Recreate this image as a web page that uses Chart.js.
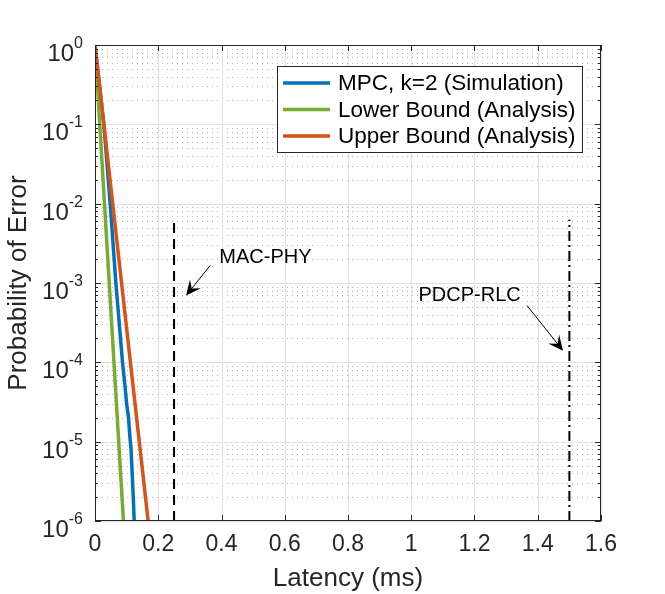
<!DOCTYPE html>
<html>
<head>
<meta charset="utf-8">
<script src="https://cdn.jsdelivr.net/npm/chart.js@4.4.0/dist/chart.umd.min.js"></script>
<style>
  html, body { margin: 0; padding: 0; background: #fff; }
</style>
</head>
<body>
<canvas id="grafico" width="665" height="594"></canvas>
<script>
// Dati
var latenzaMPC = [0, 0.028, 0.048, 0.066, 0.087, 0.095, 0.100, 0.106, 0.110, 0.114, 0.119, 0.121, 0.124];
var erroreMPC  = [1, 1e-1, 1e-2, 1e-3, 1e-4, 5e-5, 3e-5, 2e-5, 1.2e-5, 8e-6, 3e-6, 2e-6, 1e-6];
var latenzaLower = [0, 0.090];
var erroreLower  = [1, 1e-6];
var latenzaUpper = [0, 0.168];
var erroreUpper  = [1, 1e-6];

// linee verticali (MAC-PHY, PDCP-RLC)
var lineeX    = [0.25, 1.5];
var lineeBase = [1e-6, 1e-6];
var lineeTop  = [6.8e-3, 6.3e-3];

var etichette = ['MPC, k=2 (Simulation)', 'Lower Bound (Analysis)', 'Upper Bound (Analysis)'];
var xTicks = [0, 0.2, 0.4, 0.6, 0.8, 1, 1.2, 1.4, 1.6];
var yTicks = [1e-6, 1e-5, 1e-4, 1e-3, 1e-2, 1e-1, 1];

// note con freccia
var testiNote = ['MAC-PHY', 'PDCP-RLC'];
var notaX = [0.393, 1.023];
var notaY = [1.8e-3, 6.0e-4];
var frecciaDaX = [0.364, 1.366];
var frecciaDaY = [1.66e-3, 5.2e-4];
var frecciaAX = [0.288, 1.48];
var frecciaAY = [6.95e-4, 1.4e-4];

var FONT = "'Liberation Sans', Arial, Helvetica, sans-serif";
var GRIGIO = '#262626';

function punti(xs, ys) {
    var out = [];
    for (var i = 0; i < xs.length; i++) {
        out.push({ x: xs[i], y: ys[i] });
    }
    return out;
}

// Griglia stile MATLAB (maggiore continua, minore punteggiata)
var pluginGriglia = {
    id: 'griglia',
    beforeDatasetsDraw: function(chart) {
        var ctx = chart.ctx;
        var a = chart.chartArea;
        var sx = chart.scales.x, sy = chart.scales.y;
        ctx.save();
        ctx.lineWidth = 1;
        ctx.strokeStyle = '#b5b5b5';
        ctx.setLineDash([1, 4]);
        for (var i = 0; i < yTicks.length - 1; i++) {
            for (var m = 2; m <= 9; m++) {
                var py = Math.round(sy.getPixelForValue(yTicks[i] * m)) + 0.5;
                ctx.beginPath();
                ctx.moveTo(a.left + 2, py);
                ctx.lineTo(a.right, py);
                ctx.stroke();
            }
        }
        ctx.setLineDash([]);
        ctx.strokeStyle = '#e0e0e0';
        yTicks.forEach(function(v) {
            var py = Math.round(sy.getPixelForValue(v)) + 0.5;
            ctx.beginPath();
            ctx.moveTo(a.left, py);
            ctx.lineTo(a.right, py);
            ctx.stroke();
        });
        xTicks.forEach(function(v) {
            var px = Math.round(sx.getPixelForValue(v)) + 0.5;
            ctx.beginPath();
            ctx.moveTo(px, a.top);
            ctx.lineTo(px, a.bottom);
            ctx.stroke();
        });
        ctx.restore();
    },
    afterDatasetsDraw: function(chart) {
        var ctx = chart.ctx;
        var a = chart.chartArea;
        var sx = chart.scales.x, sy = chart.scales.y;
        ctx.save();
        // cornice e tacche
        ctx.strokeStyle = GRIGIO;
        ctx.lineWidth = 1;
        ctx.strokeRect(a.left + 0.5, a.top + 0.5, a.right - a.left - 1, a.bottom - a.top - 1);
        xTicks.forEach(function(v) {
            var px = Math.round(sx.getPixelForValue(v)) + 0.5;
            ctx.beginPath();
            ctx.moveTo(px, a.bottom); ctx.lineTo(px, a.bottom - 6);
            ctx.moveTo(px, a.top); ctx.lineTo(px, a.top + 6);
            ctx.stroke();
        });
        for (var i = 0; i < yTicks.length; i++) {
            var py = Math.round(sy.getPixelForValue(yTicks[i])) + 0.5;
            ctx.beginPath();
            ctx.moveTo(a.left, py); ctx.lineTo(a.left + 6, py);
            ctx.moveTo(a.right, py); ctx.lineTo(a.right - 6, py);
            ctx.stroke();
            if (i < yTicks.length - 1) {
                for (var m = 2; m <= 9; m++) {
                    var pm = Math.round(sy.getPixelForValue(yTicks[i] * m)) + 0.5;
                    ctx.beginPath();
                    ctx.moveTo(a.left, pm); ctx.lineTo(a.left + 3, pm);
                    ctx.moveTo(a.right, pm); ctx.lineTo(a.right - 3, pm);
                    ctx.stroke();
                }
            }
        }
        // etichette asse y 10^n
        ctx.fillStyle = GRIGIO;
        yTicks.forEach(function(v) {
            var py = sy.getPixelForValue(v);
            var esp = String(Math.round(Math.log10(v)));
            ctx.font = '16px ' + FONT;
            var we = ctx.measureText(esp).width;
            var xr = a.left - 12;
            ctx.textAlign = 'left';
            ctx.textBaseline = 'alphabetic';
            ctx.fillText(esp, xr - we, py + 3);
            ctx.font = '24px ' + FONT;
            ctx.textAlign = 'right';
            ctx.fillText('10', xr - we, py + 16);
        });
        // note
        ctx.fillStyle = '#000';
        ctx.strokeStyle = '#000';
        ctx.font = '20px ' + FONT;
        ctx.textAlign = 'left';
        ctx.textBaseline = 'alphabetic';
        for (var k = 0; k < testiNote.length; k++) {
            ctx.fillText(testiNote[k], sx.getPixelForValue(notaX[k]), sy.getPixelForValue(notaY[k]));
            var x0 = sx.getPixelForValue(frecciaDaX[k]), y0 = sy.getPixelForValue(frecciaDaY[k]);
            var x1 = sx.getPixelForValue(frecciaAX[k]), y1 = sy.getPixelForValue(frecciaAY[k]);
            var ang = Math.atan2(y1 - y0, x1 - x0);
            var lung = 15, larg = 7;
            ctx.lineWidth = 1;
            ctx.beginPath();
            ctx.moveTo(x0, y0);
            ctx.lineTo(x1 - Math.cos(ang) * lung * 0.6, y1 - Math.sin(ang) * lung * 0.6);
            ctx.stroke();
            var bx = x1 - Math.cos(ang) * lung, by = y1 - Math.sin(ang) * lung;
            var nx = x1 - Math.cos(ang) * lung * 0.6, ny = y1 - Math.sin(ang) * lung * 0.6;
            ctx.beginPath();
            ctx.moveTo(x1, y1);
            ctx.lineTo(bx + Math.sin(ang) * larg, by - Math.cos(ang) * larg);
            ctx.lineTo(nx, ny);
            ctx.lineTo(bx - Math.sin(ang) * larg, by + Math.cos(ang) * larg);
            ctx.closePath();
            ctx.fill();
        }
        // legenda
        var lx = 277, ly = 66, lw = 305, lh = 86;
        ctx.fillStyle = '#fff';
        ctx.fillRect(lx, ly, lw, lh);
        ctx.strokeStyle = GRIGIO;
        ctx.lineWidth = 1;
        ctx.strokeRect(lx + 0.5, ly + 0.5, lw, lh);
        ctx.font = '22.5px ' + FONT;
        ctx.textBaseline = 'middle';
        for (var j = 0; j < 3; j++) {
            var ds = chart.data.datasets[j];
            var yy = ly + 17 + j * 26.5;
            ctx.strokeStyle = ds.borderColor;
            ctx.lineWidth = 3.5;
            ctx.beginPath();
            ctx.moveTo(lx + 6, yy);
            ctx.lineTo(lx + 53, yy);
            ctx.stroke();
            ctx.fillStyle = '#000';
            ctx.fillText(ds.label, lx + 61, yy + 1);
        }
        ctx.restore();
    }
};

Chart.defaults.font.family = FONT;

var ctx = document.getElementById('grafico').getContext('2d');
var grafico = new Chart(ctx, {
    type: 'scatter',
    data: {
        datasets: [
            { label: etichette[0], data: punti(latenzaMPC, erroreMPC), borderColor: '#0072BD', borderWidth: 3.5, showLine: true, pointRadius: 0, order: 3 },
            { label: etichette[1], data: punti(latenzaLower, erroreLower), borderColor: '#77AC30', borderWidth: 3.5, showLine: true, pointRadius: 0, order: 2 },
            { label: etichette[2], data: punti(latenzaUpper, erroreUpper), borderColor: '#D95319', borderWidth: 3.5, showLine: true, pointRadius: 0, order: 1 },
            { label: 'MAC-PHY', data: punti([lineeX[0], lineeX[0]], [lineeBase[0], lineeTop[0]]), borderColor: '#000', borderWidth: 2, borderDash: [10, 6], showLine: true, pointRadius: 0, order: 4 },
            { label: 'PDCP-RLC', data: punti([lineeX[1], lineeX[1]], [lineeBase[1], lineeTop[1]]), borderColor: '#000', borderWidth: 2, borderDash: [10, 4, 2, 4], showLine: true, pointRadius: 0, order: 5 }
        ]
    },
    options: {
        responsive: false,
        animation: false,
        devicePixelRatio: 1,
        layout: { padding: { top: 45, right: 64, left: 0, bottom: 0 } },
        plugins: {
            legend: { display: false },
            tooltip: { enabled: false }
        },
        scales: {
            x: {
                type: 'linear',
                min: 0,
                max: 1.6,
                afterBuildTicks: function(s) {
                    s.ticks = xTicks.map(function(v) { return { value: v }; });
                },
                afterFit: function(s) { s.height = 73; },
                grid: { display: false, drawTicks: false },
                border: { display: false },
                ticks: {
                    color: GRIGIO,
                    font: { size: 23 },
                    padding: 10,
                    maxRotation: 0,
                    autoSkip: false,
                    callback: function(v) { return String(Math.round(v * 10) / 10); }
                },
                title: { display: true, text: 'Latency (ms)', color: GRIGIO, font: { size: 26 }, padding: 0 }
            },
            y: {
                type: 'logarithmic',
                min: 1e-6,
                max: 1,
                afterFit: function(s) { s.width = 95; },
                grid: { display: false, drawTicks: false },
                border: { display: false },
                ticks: { display: false },
                title: { display: true, text: 'Probability of Error', color: GRIGIO, font: { size: 26 }, padding: { top: 3, bottom: 0 } }
            }
        }
    },
    plugins: [pluginGriglia]
});
</script>
</body>
</html>
